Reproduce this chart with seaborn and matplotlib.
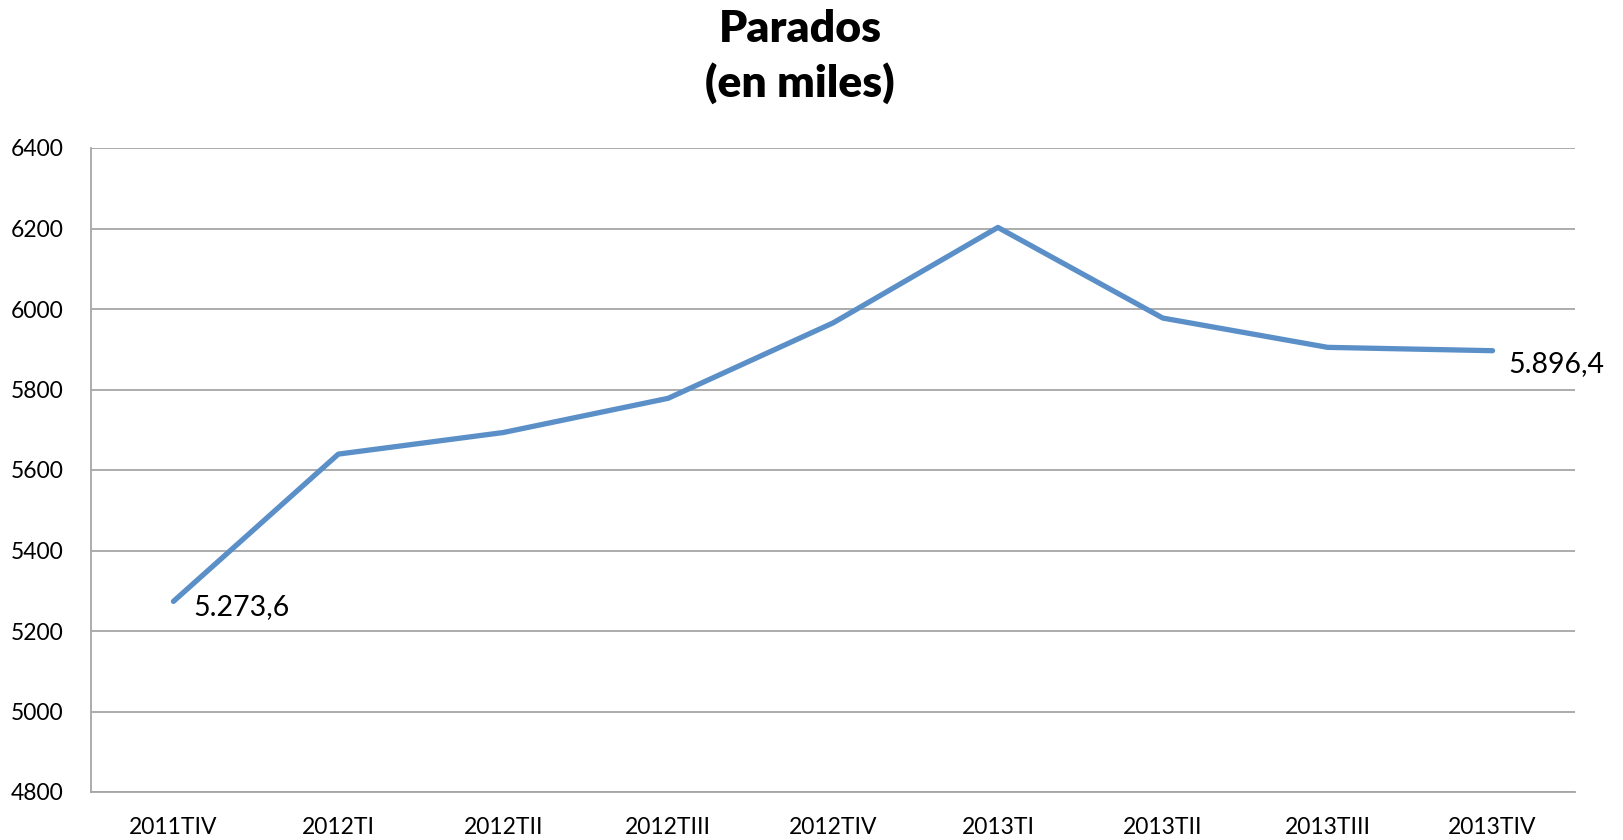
import matplotlib
matplotlib.use("Agg")
import matplotlib.pyplot as plt
import seaborn as sns
import pandas as pd

categories = ["2011TIV", "2012TI", "2012TII", "2012TIII", "2012TIV",
              "2013TI", "2013TII", "2013TIII", "2013TIV"]
parados = [5273.6, 5639.5, 5693.1, 5778.1, 5965.4, 6202.7, 5977.5, 5904.7, 5896.4]
y_ticks = [4800, 5000, 5200, 5400, 5600, 5800, 6000, 6200, 6400]
label_first = "5.273,6"
label_last = "5.896,4"

sns.set_theme(style="white")
plt.rcParams['font.family'] = ['Lato', 'DejaVu Sans']
plt.rcParams['text.color'] = 'black'

df = pd.DataFrame({"idx": range(len(categories)), "cat": categories, "val": parados})

fig = plt.figure(figsize=(16.24, 8.4), dpi=100)
ax = fig.add_axes([91/1624, 1 - 792/840, (1575-91)/1624, (792-148)/840])

sns.lineplot(data=df, x="idx", y="val", ax=ax, color="#5B8FC8", linewidth=3.8,
             solid_capstyle="round", legend=False)

ax.set_xlim(-0.5, len(categories) - 0.5)
ax.set_ylim(4800, 6400)
ax.set_yticks(y_ticks)
ax.set_yticklabels([str(t) for t in y_ticks], fontsize=16.5, color="black")
ax.set_xticks(range(len(categories)))
ax.set_xticklabels(categories, fontsize=16.5, color="black")
ax.tick_params(axis="both", length=0)
ax.tick_params(axis="x", pad=18)
ax.tick_params(axis="y", pad=20)
ax.set_xlabel("")
ax.set_ylabel("")

ax.yaxis.grid(True, color="#A6A6A6", linewidth=1.3)
ax.xaxis.grid(False)
for s in ["top", "right"]:
    ax.spines[s].set_visible(False)
for s in ["left", "bottom"]:
    ax.spines[s].set_color("#A6A6A6")
    ax.spines[s].set_linewidth(1.3)

ax.annotate(label_first, (0, parados[0]), xytext=(20, -6), textcoords="offset pixels",
            ha="left", va="center", fontsize=20.5, color="black")
ax.annotate(label_last, (len(categories) - 1, parados[-1]), xytext=(16, -13),
            textcoords="offset pixels", ha="left", va="center", fontsize=20.5, color="black")

fig.text(800/1624, 1 - 29/840, "Parados", ha="center", va="center",
         fontsize=32, fontweight="heavy", color="black")
fig.text(800/1624, 1 - 83/840, "(en miles)", ha="center", va="center",
         fontsize=32, fontweight="heavy", color="black")

fig.savefig("out.png", dpi=100)
